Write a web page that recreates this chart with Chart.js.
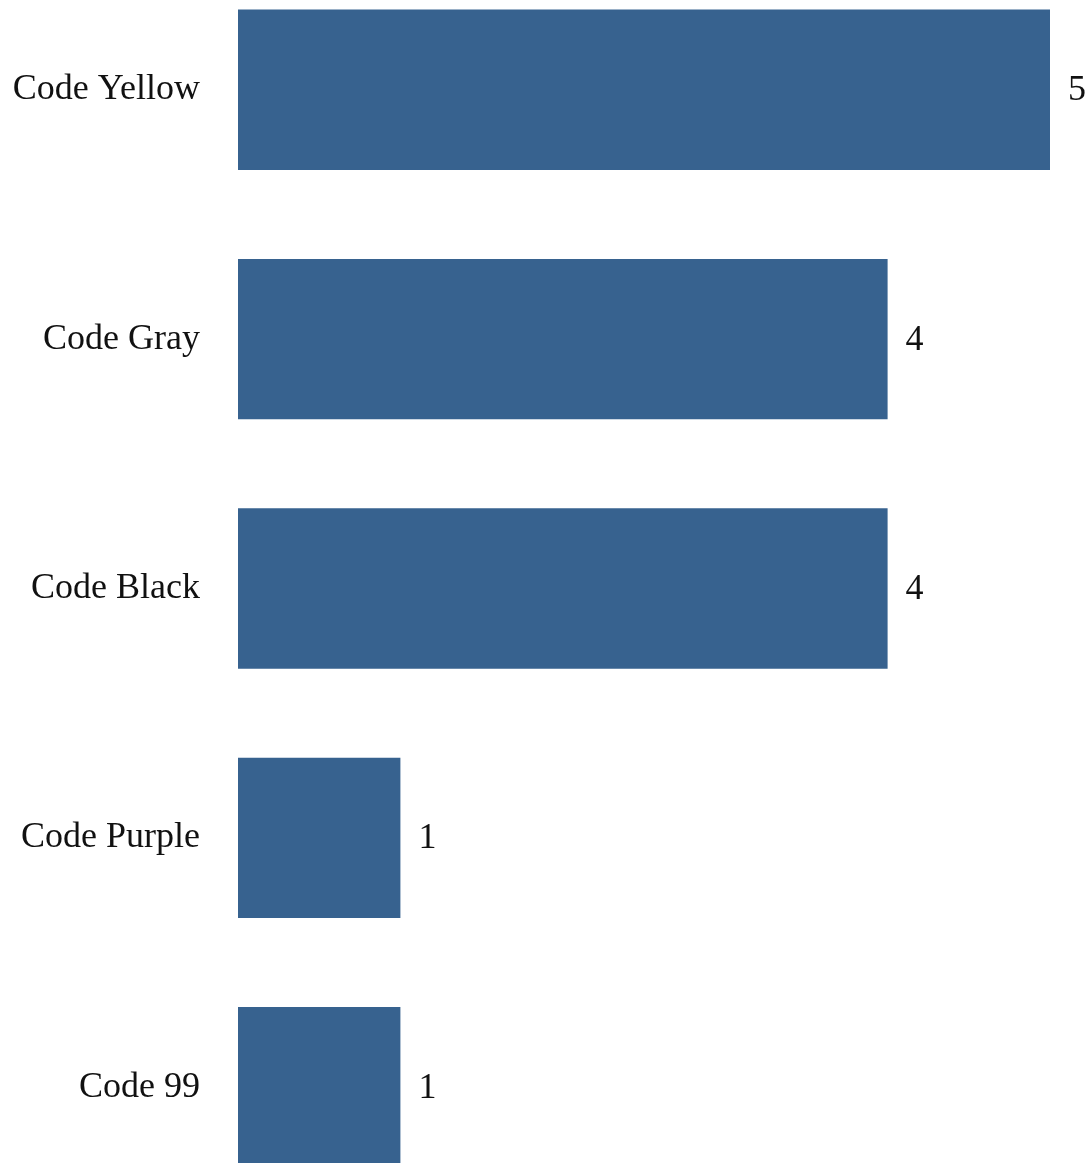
<!DOCTYPE html>
<html>
<head>
<meta charset="utf-8">
<script src="https://cdn.jsdelivr.net/npm/chart.js@4"></script>
<style>
  html, body { margin: 0; padding: 0; background: #fff; overflow: hidden; }
  #bar-chart { display: block; }
</style>
</head>
<body>
<canvas id="bar-chart" width="1088" height="1163"></canvas>
<script>
const labels = ["Code Yellow", "Code Gray", "Code Black", "Code Purple", "Code 99"];
const counts = [5, 4, 4, 1, 1];
const xTicks = [0, 5];

const fontFamily = "'Liberation Serif', 'DejaVu Serif', serif";

// the original picture is cropped: the category axis runs past the top and bottom edges
const cropPlot = {
  id: 'cropPlot',
  afterLayout(chart) {
    const y = chart.scales.y;
    y.top = -35;
    y.bottom = 1212;
    y.height = y.bottom - y.top;
    y.configure();
    chart.chartArea.top = y.top;
    chart.chartArea.bottom = y.bottom;
    chart.chartArea.height = y.height;
  }
};

// value labels at the end of each bar
const endLabels = {
  id: 'endLabels',
  afterDatasetsDraw(chart) {
    const ctx = chart.ctx;
    const meta = chart.getDatasetMeta(0);
    ctx.save();
    ctx.font = "36px " + fontFamily;
    ctx.fillStyle = "#111";
    ctx.textAlign = "left";
    ctx.textBaseline = "middle";
    meta.data.forEach(function (bar, i) {
      ctx.fillText(String(counts[i]), bar.x + 18, bar.y + 1);
    });
    ctx.restore();
  }
};

new Chart(document.getElementById("bar-chart"), {
  type: 'bar',
  data: {
    labels: labels,
    datasets: [{
      data: counts,
      backgroundColor: "#37628f",
      borderWidth: 0,
      categoryPercentage: 1,
      barPercentage: 0.643
    }]
  },
  options: {
    indexAxis: 'y',
    responsive: false,
    animation: false,
    layout: { padding: { top: 0, bottom: 0, left: 0, right: 38 } },
    plugins: {
      legend: { display: false },
      tooltip: { enabled: false }
    },
    scales: {
      x: {
        display: false,
        min: xTicks[0],
        max: xTicks[1]
      },
      y: {
        border: { display: false },
        grid: { display: false, drawTicks: false },
        ticks: {
          padding: 38,
          color: "#111",
          font: { family: fontFamily, size: 36 }
        },
        afterFit(scale) {
          scale.width = 238;
          scale.paddingTop = 0;
          scale.paddingBottom = 0;
        }
      }
    }
  },
  plugins: [cropPlot, endLabels]
});
</script>
</body>
</html>
